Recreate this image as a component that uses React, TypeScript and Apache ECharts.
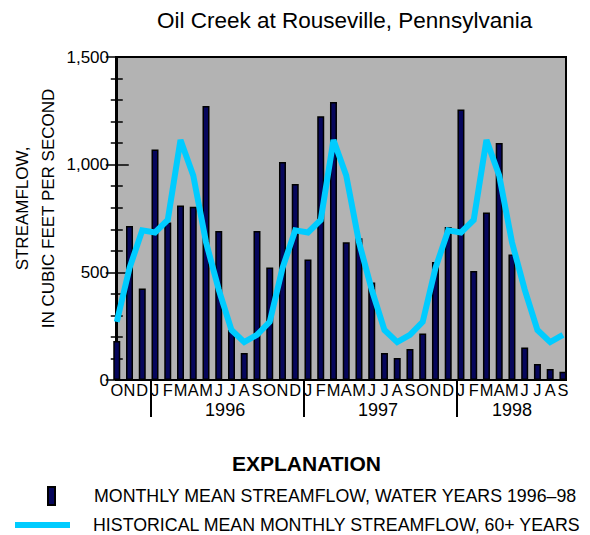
import React, { useEffect, useRef } from "react";
import * as echarts from "echarts";

const FONT = "'Liberation Sans', Arial, Helvetica, sans-serif";

const MONTH_LABELS = [
  "O", "N", "D", "J", "F", "M", "A", "M", "J", "J", "A", "S",
  "O", "N", "D", "J", "F", "M", "A", "M", "J", "J", "A", "S",
  "O", "N", "D", "J", "F", "M", "A", "M", "J", "J", "A", "S",
];

// Monthly mean streamflow, Oct 1995 – Sep 1998 (ft3/s)
const MONTHLY_FLOW = [
  181, 715, 425, 1070, 731, 810, 805, 1273, 692, 232, 125, 692,
  523, 1012, 910, 560, 1225, 1291, 640, 658, 453, 125, 102, 144,
  216, 548, 711, 1256, 506, 778, 1101, 583, 151, 74, 51, 38,
];

// Historical mean monthly streamflow, Oct..Sep (ft3/s)
const HIST_MEAN = [270, 520, 695, 685, 743, 1115, 950, 640, 420, 232, 176, 210];

const YEARS = ["1996", "1997", "1998"];
const YEAR_LABEL_AT = [8.5, 20.5, 31];
const YEAR_TICK_AT = [2.7, 14.7, 26.7];

const Y_MIN = 0;
const Y_MAX = 1500;
const Y_INTERVAL = 500;

const BAR_NAME = "MONTHLY MEAN STREAMFLOW, WATER YEARS 1996\u201398";
const LINE_NAME = "HISTORICAL MEAN MONTHLY STREAMFLOW, 60+ YEARS";

export default function App() {
  const ref = useRef<HTMLDivElement>(null);

  useEffect(() => {
    document.body.style.margin = "0";
    if (!ref.current) return;
    const chart = echarts.init(ref.current, null, { renderer: "svg" });

    const barData = MONTHLY_FLOW.map((v, i) => [i, v]);
    const lineData = MONTHLY_FLOW.map((_, i) => [i, HIST_MEAN[i % 12]]);

    const xMin = -0.06;
    const xMax = 35.24;

    chart.setOption({
      animation: false,
      textStyle: { fontFamily: FONT, color: "#000" },
      title: [
        {
          text: "Oil Creek at Rouseville, Pennsylvania",
          left: 157,
          top: 9,
          padding: 0,
          textStyle: { fontSize: 22.5, fontWeight: "normal", color: "#000", fontFamily: FONT },
        },
        {
          text: "EXPLANATION",
          left: 232,
          top: 453,
          padding: 0,
          textStyle: { fontSize: 21, fontWeight: "bold", color: "#000", fontFamily: FONT },
        },
      ],
      legend: [
        {
          data: [{ name: BAR_NAME, icon: "rect" }],
          left: 47,
          top: 486,
          padding: 0,
          itemWidth: 7,
          itemHeight: 18,
          selectedMode: false,
          textStyle: { fontSize: 17.8, color: "#000", fontFamily: FONT, padding: [0, 0, 7, 34] },
        },
        {
          data: [{ name: LINE_NAME, icon: "rect", itemStyle: { color: "#00ccff", borderWidth: 0 } }],
          left: 15,
          top: 516,
          padding: 0,
          itemWidth: 55,
          itemHeight: 6,
          selectedMode: false,
          textStyle: { fontSize: 17.8, color: "#000", fontFamily: FONT, padding: [0, 0, 8, 18] },
        },
      ],
      grid: {
        left: 116,
        right: 24,
        top: 57,
        bottom: 155,
        outerBoundsMode: "none",
        containLabel: false,
        show: true,
        backgroundColor: "#b3b3b3",
        borderColor: "#000",
        borderWidth: 2,
      },
      xAxis: [
        {
          type: "value",
          min: xMin,
          max: xMax,
          position: "bottom",
          splitLine: { show: false },
          axisLine: { show: true, lineStyle: { color: "#000", width: 2 } },
          axisTick: { show: false },
          axisLabel: {
            customValues: MONTH_LABELS.map((_, i) => i),
            formatter: (v: number) => MONTH_LABELS[Math.round(v)] ?? "",
            fontSize: 16.4,
            color: "#000",
            fontFamily: FONT,
            margin: 2,
            hideOverlap: false,
            showMinLabel: true,
            showMaxLabel: true,
          },
        },
        {
          type: "value",
          min: xMin,
          max: xMax,
          position: "bottom",
          offset: 0,
          splitLine: { show: false },
          axisLine: { show: false },
          axisTick: {
            show: true,
            customValues: YEAR_TICK_AT,
            length: 37,
            lineStyle: { color: "#000", width: 2 },
          },
          axisLabel: {
            customValues: YEAR_LABEL_AT,
            formatter: (v: number) => {
              const k = YEAR_LABEL_AT.indexOf(v);
              return k >= 0 ? YEARS[k] : "";
            },
            fontSize: 18,
            color: "#000",
            fontFamily: FONT,
            margin: 21,
          },
        },
      ],
      yAxis: [
        {
          type: "value",
          min: Y_MIN,
          max: Y_MAX,
          interval: Y_INTERVAL,
          position: "left",
          name: "STREAMFLOW,\nIN CUBIC FEET PER SECOND",
          nameLocation: "middle",
          nameGap: 55,
          nameMoveOverlap: false,
          nameRotate: 90,
          nameTextStyle: {
            fontSize: 17,
            lineHeight: 26,
            color: "#000",
            fontFamily: FONT,
            padding: [0, 0, 0, 20],
          },
          splitLine: { show: false },
          axisLine: { show: true, lineStyle: { color: "#000", width: 2 } },
          axisTick: { show: true, inside: true, length: 12, lineStyle: { color: "#000", width: 1.5 } },
          minorTick: { show: true, splitNumber: 5, length: 6, lineStyle: { color: "#000", width: 1.5 } },
          axisLabel: { fontSize: 17, color: "#000", fontFamily: FONT, margin: 7 },
        },
        {
          type: "value",
          min: Y_MIN,
          max: Y_MAX,
          interval: Y_INTERVAL,
          position: "right",
          splitLine: { show: false },
          axisLine: { show: true, lineStyle: { color: "#000", width: 2 } },
          axisTick: { show: true, inside: true, length: 11, lineStyle: { color: "#000", width: 1.5 } },
          minorTick: { show: true, splitNumber: 5, length: 6, lineStyle: { color: "#000", width: 1.5 } },
          axisLabel: { show: false },
        },
      ],
      series: [
        {
          name: LINE_NAME,
          type: "line",
          xAxisIndex: 0,
          yAxisIndex: 0,
          data: lineData,
          symbol: "none",
          showSymbol: false,
          clip: true,
          color: "#00ccff",
          lineStyle: { color: "#00ccff", width: 6, join: "miter" },
          itemStyle: { color: "#00ccff" },
        },
        {
          name: BAR_NAME,
          type: "bar",
          xAxisIndex: 0,
          yAxisIndex: 0,
          data: barData,
          barWidth: 7,
          clip: true,
          itemStyle: { color: "#06065c", borderColor: "#000", borderWidth: 1.5 },
        },
      ],
    });

    return () => chart.dispose();
  }, []);

  return <div ref={ref} style={{ width: 590, height: 535 }} />;
}
